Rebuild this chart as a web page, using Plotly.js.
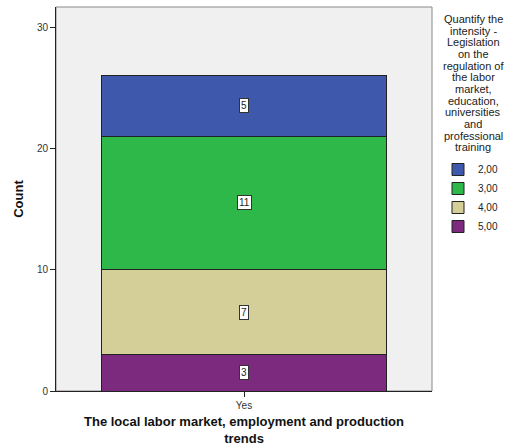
<!DOCTYPE html>
<html>
<head>
<meta charset="utf-8">
<script src="https://cdn.plot.ly/plotly-3.0.1.min.js"></script>
<style>html,body{margin:0;padding:0;background:#fff;}#chart{width:513px;height:446px;}</style>
</head>
<body>
<div id="chart"></div>
<script>
const categories = ['Yes'];
const seriesNames = ['5,00', '4,00', '3,00', '2,00'];
const seriesValues = [[3], [7], [11], [5]];
const seriesColors = ['#7B2A7E', '#D4CF98', '#2EB84A', '#3E59AC'];
const yTicks = [0, 10, 20, 30];
const xTitle = 'The local labor market, employment and production<br>trends';
const yTitle = 'Count';
const legendTitleLines = ['Quantify the', 'intensity -', 'Legislation', 'on the', 'regulation of', 'the labor', 'market,', 'education,', 'universities', 'and', 'professional', 'training'];

const FONT = 'Liberation Sans, Arial, sans-serif';
const W = 513, H = 446;
const M = {l: 56, r: 81, t: 7, b: 55};
const plotH = H - M.t - M.b;

const traces = seriesNames.map((name, i) => ({
  type: 'bar',
  name: name,
  x: categories,
  y: seriesValues[i],
  marker: {color: seriesColors[i], line: {color: '#222', width: 1}},
  width: 0.76,
  hoverinfo: 'none'
}));

const annotations = [];
const cum = categories.map(() => 0);
seriesValues.forEach((vals) => {
  vals.forEach((v, j) => {
    annotations.push({
      x: categories[j], y: cum[j] + v / 2, xref: 'x', yref: 'y',
      text: String(v), showarrow: false,
      bgcolor: '#ffffff', bordercolor: '#333', borderwidth: 1, borderpad: 1,
      font: {family: FONT, size: 10, color: '#222'}
    });
    cum[j] += v;
  });
});
// legend title, one annotation per line for tight line spacing
legendTitleLines.forEach((line, i) => {
  const xpx = 473, ypx = 19 + i * 11.65;
  annotations.push({
    x: (xpx - M.l) / (W - M.l - M.r), y: (H - M.b - ypx) / plotH,
    xref: 'paper', yref: 'paper',
    xanchor: 'center', yanchor: 'middle',
    text: line, showarrow: false,
    font: {family: FONT, size: 11, color: '#222'}
  });
});

const layout = {
  width: W, height: H,
  margin: M,
  paper_bgcolor: '#ffffff',
  plot_bgcolor: '#F0F0F0',
  barmode: 'stack',
  bargap: 0.24,
  showlegend: true,
  legend: {
    xref: 'container', yref: 'container',
    x: 438 / W, y: 1 - 155 / H, xanchor: 'left', yanchor: 'top',
    traceorder: 'reversed',
    font: {family: FONT, size: 10, color: '#222'},
    bgcolor: 'rgba(0,0,0,0)', itemwidth: 30, tracegroupgap: 0
  },
  xaxis: {
    type: 'category', range: [-0.5, 0.5],
    showgrid: false, zeroline: false,
    showline: true, linecolor: '#222', linewidth: 1,
    ticks: 'outside', ticklen: 5, tickcolor: '#222',
    tickfont: {family: FONT, size: 10, color: '#333'},
    title: {text: xTitle, standoff: 11, font: {family: FONT, size: 13, color: '#111', weight: 'bold'}}
  },
  yaxis: {
    range: [0, 31.65], tickvals: yTicks,
    showgrid: false, zeroline: false,
    showline: true, linecolor: '#222', linewidth: 1,
    ticks: 'outside', ticklen: 5, tickcolor: '#222',
    tickfont: {family: FONT, size: 10, color: '#333'},
    title: {text: yTitle, standoff: 10, font: {family: FONT, size: 13, color: '#111', weight: 'bold'}}
  },
  shapes: [{type: 'rect', xref: 'paper', yref: 'paper', x0: 0, x1: 1, y0: 0, y1: 1, line: {color: '#888', width: 1}, layer: 'below'}],
  annotations: annotations
};

Plotly.newPlot('chart', traces, layout, {staticPlot: true, displayModeBar: false});
</script>
</body>
</html>
